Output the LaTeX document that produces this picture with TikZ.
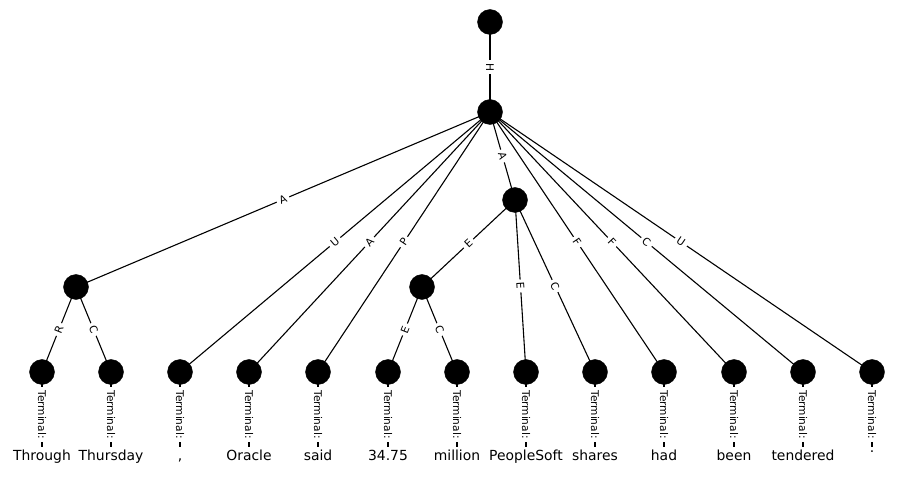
\documentclass[tikz,border=0pt]{standalone}
\usepackage{fontspec}
\setmainfont{DejaVu Sans}
\pgfdeclarelayer{background}
\pgfsetlayers{background,main}
\begin{document}
\begin{tikzpicture}[x=1pt,y=-1pt,
  dot/.style={circle,fill=black,draw=black,minimum size=25pt,inner sep=0pt},
  word/.style={fill=white,inner xsep=1pt,inner ysep=3.5pt,text height=10pt,text depth=3pt,
    font=\fontsize{13.9}{16}\selectfont},
  elabel/.style={fill=white,inner sep=3pt,font=\fontsize{10.6}{12}\selectfont},
  link/.style={line width=1.1pt,black}]
\useasboundingbox (0,0) rectangle (914,481);

% inner nodes
\node[dot] (r) at (490,22) {};
\node[dot] (n) at (490,112) {};
\node[dot] (l) at (76,287) {};
\node[dot] (m) at (515,200) {};
\node[dot] (k) at (422,287) {};

% terminals and their words
\foreach \i/\x/\w in {1/42/Through, 2/111/Thursday, 3/180/{,}, 4/249/Oracle,
    5/318/said, 6/388/34.75, 7/457/million, 8/526/PeopleSoft, 9/595/shares,
    10/664/had, 11/734/been, 12/803/tendered}{
  \node[dot] (t\i) at (\x,372) {};
  \node[word] (w\i) at (\x,457) {\w};
}
\node[dot] (t13) at (872,372) {};
\node[word] (w13) at (872,457) {\raisebox{8pt}{.}};

\begin{pgfonlayer}{background}
  \draw[link] (r.center) -- node[elabel,rotate=-90] {H} (n.center);
  \draw[link] (n.center) -- node[elabel,sloped] {A} (l.center);
  \draw[link] (l.center) -- node[elabel,sloped] {R} (t1.center);
  \draw[link] (l.center) -- node[elabel,sloped] {C} (t2.center);
  \draw[link] (n.center) -- node[elabel,sloped] {U} (t3.center);
  \draw[link] (n.center) -- node[elabel,sloped] {A} (t4.center);
  \draw[link] (n.center) -- node[elabel,sloped] {P} (t5.center);
  \draw[link] (n.center) -- node[elabel,sloped] {A} (m.center);
  \draw[link] (m.center) -- node[elabel,sloped] {E} (k.center);
  \draw[link] (k.center) -- node[elabel,sloped] {E} (t6.center);
  \draw[link] (k.center) -- node[elabel,sloped] {C} (t7.center);
  \draw[link] (m.center) -- node[elabel,sloped] {E} (t8.center);
  \draw[link] (m.center) -- node[elabel,sloped] {C} (t9.center);
  \draw[link] (n.center) -- node[elabel,sloped] {F} (t10.center);
  \draw[link] (n.center) -- node[elabel,sloped] {F} (t11.center);
  \draw[link] (n.center) -- node[elabel,sloped] {C} (t12.center);
  \draw[link] (n.center) -- node[elabel,sloped] {U} (t13.center);
  \foreach \i in {1,...,13}{
    \draw[link] (t\i.center) -- node[elabel,rotate=-90] {Terminal:} (w\i.center);
  }
\end{pgfonlayer}
\end{tikzpicture}
\end{document}
